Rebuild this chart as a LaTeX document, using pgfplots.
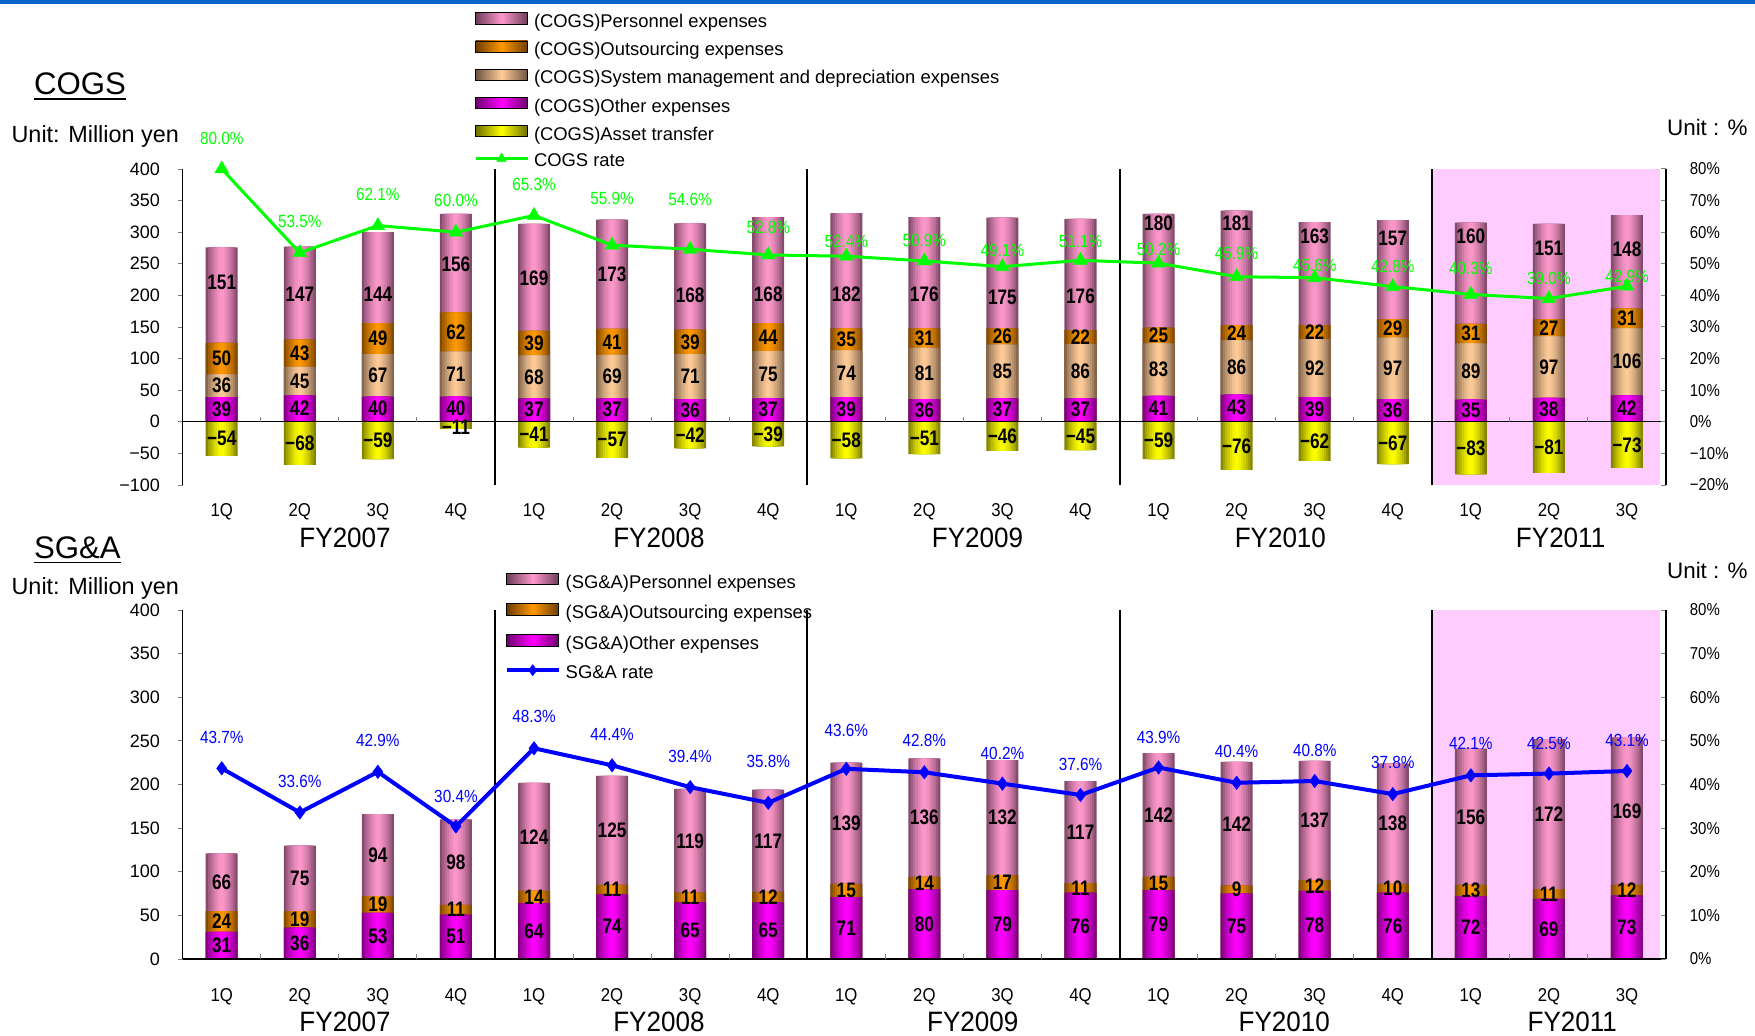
\documentclass[border=0pt]{standalone}
\usepackage{pgfplots}
\pgfplotsset{compat=1.18}
\usepackage{pgfplotstable}
\usepackage{fontspec}
\setmainfont{Liberation Sans}
\newfontfamily\nfA[FakeStretch=0.82]{Liberation Sans}
\newfontfamily\nfB[FakeStretch=0.87]{Liberation Sans}
\newfontfamily\nfC[FakeStretch=0.9]{Liberation Sans}
\newfontfamily\nfD[FakeStretch=0.93]{Liberation Sans}
\newcommand\labfont{\nfA\bfseries\fontsize{10.5}{12}\selectfont}
\newcommand\pctfont{\nfB\fontsize{8.8}{10}\selectfont}
\newcommand\rtickfont{\nfB\fontsize{8.6}{10}\selectfont}
\newcommand\ltickfont{\fontsize{9}{10}\selectfont}
\newcommand\qfont{\nfC\fontsize{9.3}{11}\selectfont}
\newcommand\fyfont{\nfD\fontsize{14}{16}\selectfont}
\newcommand\legfont{\fontsize{9.2}{11}\selectfont}

\definecolor{pkL}{RGB}{255,153,204}
\definecolor{pkD}{RGB}{110,60,90}
\definecolor{orL}{RGB}{255,153,0}
\definecolor{orD}{RGB}{110,60,0}
\definecolor{peL}{RGB}{255,204,153}
\definecolor{peD}{RGB}{110,85,65}
\definecolor{mgL}{RGB}{255,0,255}
\definecolor{mgD}{RGB}{110,0,110}
\definecolor{yeL}{RGB}{255,255,0}
\definecolor{yeD}{RGB}{110,110,0}
\definecolor{bgpink}{RGB}{255,204,255}
\definecolor{lgreen}{RGB}{0,255,0}
\definecolor{rblue}{RGB}{0,0,255}
\definecolor{topblue}{RGB}{10,100,200}

\pgfplotstableread{
x oth sys out per ast rate pl rl al
0 39 36 50 151 -54 80.0 220 89.7 -27
1 42 45 43 147 -68 53.5 202 63.3 -34
2 40 67 49 144 -59 62.1 202 72.1 -29.5
3 40 71 62 156 -11 60.0 250 70.0 -9
4 37 68 39 169 -41 65.3 227 75.2 -20.5
5 37 69 41 173 -57 55.9 233 70.8 -28.5
6 36 71 39 168 -42 54.6 200 70.5 -21
7 37 75 44 168 -39 52.8 202 61.6 -19.5
8 39 74 35 182 -58 52.4 201 57.0 -29
9 36 81 31 176 -51 50.9 202 57.5 -25.5
10 37 85 26 175 -46 49.1 197 54.1 -23
11 37 86 22 176 -45 51.1 198 57.0 -22.5
12 41 83 25 180 -59 50.2 314 54.4 -29.5
13 43 86 24 181 -76 45.9 314 53.4 -38
14 39 92 22 163 -62 45.6 293 49.4 -31
15 36 97 29 157 -67 42.8 291 49.1 -33.5
16 35 89 31 160 -83 40.3 293 48.6 -41.5
17 38 97 27 151 -81 39.0 275 45.4 -40.5
18 42 106 31 148 -73 42.9 273 45.9 -36.5
}\cogs

\pgfplotstableread{
x oth out per rate rl
0 31 24 66 43.7 50.7
1 36 19 75 33.6 40.6
2 53 19 94 42.9 50.0
3 51 11 98 30.4 37.3
4 64 14 124 48.3 55.5
5 74 11 125 44.4 51.5
6 65 11 119 39.4 46.5
7 65 12 117 35.8 45.3
8 71 15 139 43.6 52.4
9 80 14 136 42.8 50.0
10 79 17 132 40.2 47.2
11 76 11 117 37.6 44.6
12 79 15 142 43.9 50.9
13 75 9 142 40.4 47.6
14 78 12 137 40.8 47.8
15 76 10 138 37.8 45.0
16 72 13 156 42.1 49.4
17 69 11 172 42.5 49.5
18 73 12 169 43.1 50.1
}\sga

\pgfplotsset{
  barleg/.style={legend image code/.code={\path[##1] (0pt,-1.7pt) rectangle (26pt,4.1pt);}},
  lineleg/.style={legend image code/.code={\draw[mark repeat=2,mark phase=2,##1,mark size=2.8pt] plot coordinates {(0pt,0.8pt) (13pt,0.8pt) (26pt,0.8pt)};}},
  pkbar/.style={left color=pkD, right color=pkD, middle color=pkL},
  orbar/.style={left color=orD, right color=orD, middle color=orL},
  pebar/.style={left color=peD, right color=peD, middle color=peL},
  mgbar/.style={left color=mgD, right color=mgD, middle color=mgL},
  yebar/.style={left color=yeD, right color=yeD, middle color=yeL},
  gbar/.style={ybar, bar shift=0pt, draw=none, forget plot},
  geomtop/.style={at={(91.35pt,275pt)}, anchor=south west, scale only axis,
    width=741.65pt, height=158pt, xmin=-0.5, xmax=18.5, ymin=-100, ymax=400,
    clip=false, enlargelimits=false},
  geombot/.style={at={(91.35pt,38pt)}, anchor=south west, scale only axis,
    width=741.65pt, height=174.5pt, xmin=-0.5, xmax=18.5, ymin=0, ymax=400,
    clip=false, enlargelimits=false},
  lab/.style={forget plot, only marks, mark=text, text mark={},
    point meta=explicit,
    nodes near coords={\pgfmathprintnumber[assume math mode=true]{\pgfplotspointmeta}},
    every node near coord/.append style={anchor=center, inner sep=0pt, font=\labfont, text=black}},
  pct/.style={forget plot, only marks, mark=text, text mark={},
    point meta=explicit,
    nodes near coords={\pgfmathprintnumber[fixed,fixed zerofill,precision=1,assume math mode=true]{\pgfplotspointmeta}\%},
    every node near coord/.append style={anchor=center, inner sep=0pt, font=\pctfont}},
  leftax/.style={axis y line*=left, axis x line=none,
    y axis line style={-, black, line width=0.6pt},
    tick align=outside, major tick length=2.5pt, ytick style={draw=gray, line width=0.5pt},
    yticklabel style={font=\ltickfont, xshift=-5.4pt}},
  rightax/.style={axis y line*=right, axis x line*=bottom, x axis line style={draw=none},
    y axis line style={-, black, line width=0.6pt},
    major tick length=2.5pt, ytick style={draw=gray, line width=0.5pt},
    yticklabel style={font=\rtickfont, xshift=8.4pt},
    xtick style={draw=none},
    legend cell align=left},
  midax/.style={axis y line=none, axis x line*=bottom, x axis line style={draw=none},
    ytick=\empty, xtick={0,...,18},
    xticklabels={1Q,2Q,3Q,4Q,1Q,2Q,3Q,4Q,1Q,2Q,3Q,4Q,1Q,2Q,3Q,4Q,1Q,2Q,3Q},
    xtick style={draw=none}},
}

% cylinder-like bars: layered bars from dark edge to light centre
\newcommand\gradbars[4]{%
\addplot[gbar, bar width=0.41,   fill=#4!16!#3] table[x=x, y expr={#2}]{#1};
\addplot[gbar, bar width=0.3514, fill=#4!36!#3] table[x=x, y expr={#2}]{#1};
\addplot[gbar, bar width=0.2929, fill=#4!52!#3] table[x=x, y expr={#2}]{#1};
\addplot[gbar, bar width=0.2343, fill=#4!66!#3] table[x=x, y expr={#2}]{#1};
\addplot[gbar, bar width=0.1757, fill=#4!78!#3] table[x=x, y expr={#2}]{#1};
\addplot[gbar, bar width=0.1171, fill=#4!89!#3] table[x=x, y expr={#2}]{#1};
\addplot[gbar, bar width=0.0586, fill=#4!97!#3] table[x=x, y expr={#2}]{#1};
}

\begin{document}
\begin{tikzpicture}
\useasboundingbox (0,0) rectangle (877.5pt,517.5pt);
\fill[topblue] (0,515.3pt) rectangle (877.5pt,517.5pt);

%================ COGS =================
\begin{axis}[geomtop, leftax,
  ytick={-100,-50,...,400},
  yticklabels={−100,−50,0,50,100,150,200,250,300,350,400}]
\fill[bgpink] (axis cs:15.5,-100) rectangle (axis cs:18.42,400);
\end{axis}

\begin{axis}[geomtop, midax, xticklabel style={font=\qfont, anchor=center, yshift=-13.5pt}]
\gradbars{\cogs}{\thisrow{oth}+\thisrow{sys}+\thisrow{out}+\thisrow{per}}{pkD}{pkL}
\gradbars{\cogs}{\thisrow{oth}+\thisrow{sys}+\thisrow{out}}{orD}{orL}
\gradbars{\cogs}{\thisrow{oth}+\thisrow{sys}}{peD}{peL}
\gradbars{\cogs}{\thisrow{oth}}{mgD}{mgL}
\gradbars{\cogs}{\thisrow{ast}}{yeD}{yeL}
\draw[black, line width=0.6pt] (axis cs:-0.5,0) -- (axis cs:18.5,0);
\pgfplotsinvokeforeach{0.5,1.5,...,17.5}{\draw[gray, line width=0.5pt] (axis cs:#1,0) -- ([yshift=2.5pt]axis cs:#1,0);}
\draw[line width=1pt] (axis cs:3.5,-100) -- (axis cs:3.5,400);
\draw[line width=1pt] (axis cs:7.5,-100) -- (axis cs:7.5,400);
\draw[line width=1pt] (axis cs:11.5,-100) -- (axis cs:11.5,400);
\draw[line width=1pt] (axis cs:15.5,-100) -- (axis cs:15.5,400);
\addplot[lab] table[x=x, y expr=\thisrow{oth}/2+1, meta=oth]{\cogs};
\addplot[lab] table[x=x, y expr=\thisrow{oth}+\thisrow{sys}/2, meta=sys]{\cogs};
\addplot[lab] table[x=x, y expr=\thisrow{oth}+\thisrow{sys}+\thisrow{out}/2, meta=out]{\cogs};
\addplot[lab] table[x=x, y=pl, meta=per]{\cogs};
\addplot[lab, nodes near coords={−\pgfmathprintnumber[assume math mode=true]{\pgfplotspointmeta}}]
  table[x=x, y=al, meta expr=-\thisrow{ast}]{\cogs};
\end{axis}

\begin{axis}[geomtop, rightax, ymin=-20, ymax=80,
  ytick={-20,-10,...,80},
  yticklabels={−20\%,−10\%,0\%,10\%,20\%,30\%,40\%,50\%,60\%,70\%,80\%},
  xtick={1.58,5.6,9.68,13.56,17.15},
  xticklabels={FY2007,FY2008,FY2009,FY2010,FY2011},
  xticklabel style={font=\fyfont, anchor=center, yshift=-26.65pt},
  legend style={at={(0.1964,1.4953)}, anchor=north west, draw=none, fill=none,
    inner sep=0pt, outer sep=0pt, row sep=6.4pt, column sep=2.5pt, font=\legfont,
    nodes={inner sep=0pt, text height=6.7pt, text depth=0pt}}]
\addlegendimage{barleg, pkbar}\addlegendentry{(COGS)Personnel expenses}
\addlegendimage{barleg, orbar}\addlegendentry{(COGS)Outsourcing expenses}
\addlegendimage{barleg, pebar}\addlegendentry{(COGS)System management and depreciation expenses}
\addlegendimage{barleg, mgbar}\addlegendentry{(COGS)Other expenses}
\addlegendimage{barleg, yebar}\addlegendentry{(COGS)Asset transfer}
\addplot[lineleg, color=lgreen, line width=1.5pt, mark=triangle*, mark size=4pt,
  mark options={solid, fill=lgreen, draw=lgreen, line width=0.2pt}] table[x=x,y=rate]{\cogs};
\addlegendentry{COGS rate}
\addplot[pct, every node near coord/.append style={text=lgreen}] table[x=x, y=rl, meta=rate]{\cogs};
\end{axis}

%================ SG&A =================
\begin{axis}[geombot, leftax,
  ytick={0,50,...,400},
  yticklabels={0,50,100,150,200,250,300,350,400}]
\fill[bgpink] (axis cs:15.5,0) rectangle (axis cs:18.42,400);
\end{axis}

\begin{axis}[geombot, midax, xticklabel style={font=\qfont, anchor=center, yshift=-18.85pt}]
\gradbars{\sga}{\thisrow{oth}+\thisrow{out}+\thisrow{per}}{pkD}{pkL}
\gradbars{\sga}{\thisrow{oth}+\thisrow{out}}{orD}{orL}
\gradbars{\sga}{\thisrow{oth}}{mgD}{mgL}
\draw[black, line width=0.6pt] (axis cs:-0.5,0) -- (axis cs:18.5,0);
\pgfplotsinvokeforeach{0.5,1.5,...,17.5}{\draw[gray, line width=0.5pt] (axis cs:#1,0) -- ([yshift=2.5pt]axis cs:#1,0);}
\draw[line width=1pt] (axis cs:3.5,0) -- (axis cs:3.5,400);
\draw[line width=1pt] (axis cs:7.5,0) -- (axis cs:7.5,400);
\draw[line width=1pt] (axis cs:11.5,0) -- (axis cs:11.5,400);
\draw[line width=1pt] (axis cs:15.5,0) -- (axis cs:15.5,400);
\addplot[lab] table[x=x, y expr=\thisrow{oth}/2, meta=oth]{\sga};
\addplot[lab] table[x=x, y expr=\thisrow{oth}+\thisrow{out}/2, meta=out]{\sga};
\addplot[lab] table[x=x, y expr=\thisrow{oth}+\thisrow{out}+\thisrow{per}/2, meta=per]{\sga};
\end{axis}

\begin{axis}[geombot, rightax, ymin=0, ymax=80,
  ytick={0,10,...,80},
  yticklabels={0\%,10\%,20\%,30\%,40\%,50\%,60\%,70\%,80\%},
  xtick={1.58,5.6,9.62,13.61,17.3},
  xticklabels={FY2007,FY2008,FY2009,FY2010,FY2011},
  xticklabel style={font=\fyfont, anchor=center, yshift=-31.35pt},
  legend style={at={(0.2171,1.1066)}, anchor=north west, draw=none, fill=none,
    inner sep=0pt, outer sep=0pt, row sep=7.65pt, column sep=2.5pt, font=\legfont,
    nodes={inner sep=0pt, text height=6.7pt, text depth=0pt}}]
\addlegendimage{barleg, pkbar}\addlegendentry{(SG\&A)Personnel expenses}
\addlegendimage{barleg, orbar}\addlegendentry{(SG\&A)Outsourcing expenses}
\addlegendimage{barleg, mgbar}\addlegendentry{(SG\&A)Other expenses}
\addplot[lineleg, color=rblue, line width=2pt, mark=diamond*, mark size=3.4pt,
  mark options={solid, fill=rblue, draw=rblue, line width=0.2pt}] table[x=x,y=rate]{\sga};
\addlegendentry{SG\&A rate}
\addplot[pct, every node near coord/.append style={text=rblue}] table[x=x, y=rl, meta=rate]{\sga};
\end{axis}

%================ headings =================
\node[anchor=base west, inner sep=0pt, font=\fontsize{15.6}{18}\selectfont] (h1) at (16.8pt,470pt) {COGS};
\draw[line width=0.9pt] ([yshift=-2pt]h1.base west) -- ([yshift=-2pt]h1.base east);
\node[anchor=base west, inner sep=0pt, font=\fontsize{15.6}{18}\selectfont] (h2) at (16.8pt,238.25pt) {SG\&A};
\draw[line width=0.9pt] ([yshift=-2pt]h2.base west) -- ([yshift=-2pt]h2.base east);
\node[anchor=base west, inner sep=0pt, font=\fontsize{11.7}{13}\selectfont] at (5.6pt,446.2pt) {Unit: Million yen};
\node[anchor=base west, inner sep=0pt, font=\fontsize{11.7}{13}\selectfont] at (5.6pt,220.3pt) {Unit: Million yen};
\node[anchor=base east, inner sep=0pt, font=\fontsize{11.2}{13}\selectfont] at (874pt,449.5pt) {Unit : \%};
\node[anchor=base east, inner sep=0pt, font=\fontsize{11.2}{13}\selectfont] at (874pt,228.2pt) {Unit : \%};
\end{tikzpicture}
\end{document}
